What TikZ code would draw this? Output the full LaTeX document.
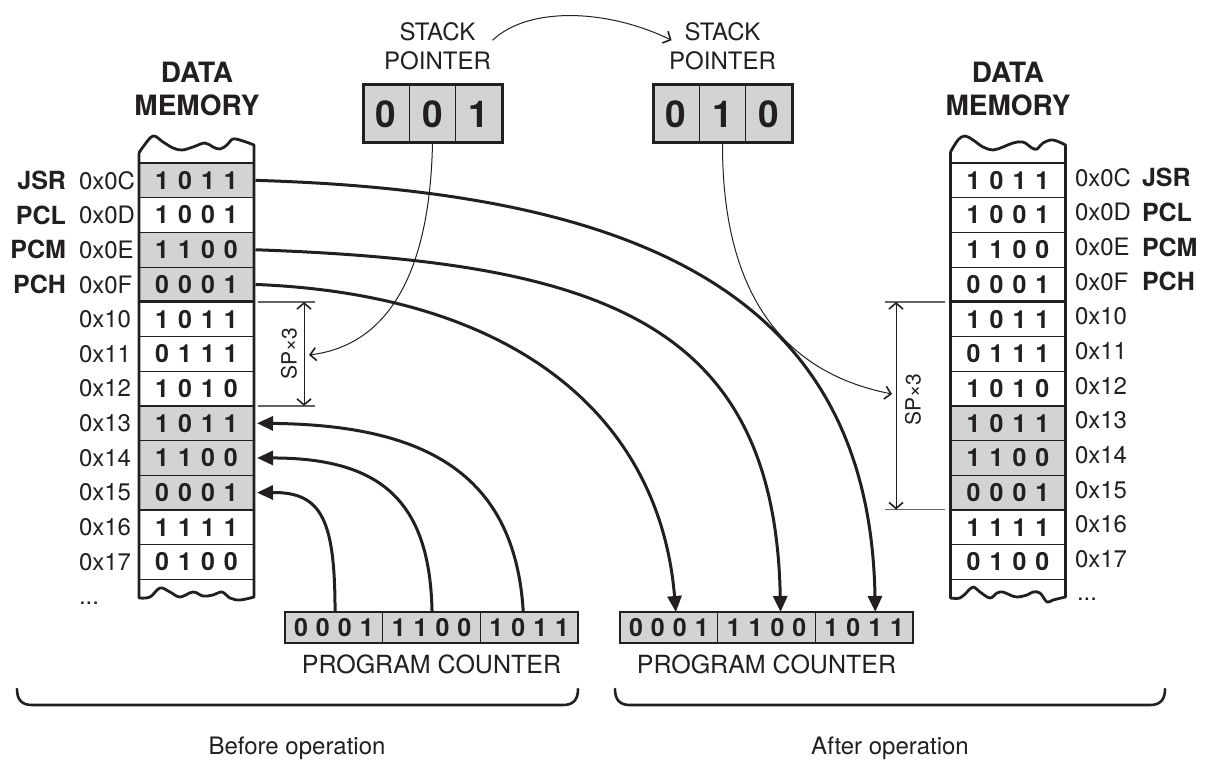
\documentclass[tikz,border=0pt]{standalone}
\usepackage{fontspec}
\setmainfont{TeX Gyre Heros}
\usetikzlibrary{arrows.meta,calc}
\definecolor{ink}{HTML}{231F20}
\definecolor{shade}{HTML}{D1D3D4}
\newcommand\fs[1]{\fontsize{#1}{#1}\selectfont}
\newcommand\spc[4]{#1\hspace{9pt}#2\hspace{9pt}#3\hspace{9pt}#4}
\newcommand\spp[4]{#1\hspace{8pt}#2\hspace{8pt}#3\hspace{8pt}#4}
\tikzset{
  every node/.style={inner sep=0pt, outer sep=0pt, text=ink},
  memcell/.style={draw=ink, line width=1.2pt, minimum width=115pt, minimum height=34.7pt, font=\fs{25}\bfseries},
  addr/.style={font=\fs{24}},
  tag/.style={font=\fs{25}\bfseries},
  title/.style={font=\fs{28}\bfseries, anchor=base},
  label/.style={font=\fs{24}, anchor=base},
  spcell/.style={draw=ink, line width=1.4pt, fill=shade, minimum width=46.4pt, minimum height=58pt, font=\fs{37}\bfseries},
  pccell/.style={draw=ink, line width=1.4pt, fill=shade, minimum width=97.7pt, minimum height=31pt, font=\fs{25}\bfseries},
  outline/.style={draw=ink, line width=2.8pt, line join=round},
  bigarrow/.style={draw=ink, line width=3pt, -{Triangle[length=16pt,width=14pt]}},
  thinarrow/.style={draw=ink, line width=1pt, -{Straight Barb[length=6pt,width=13pt,line width=1.6pt]}},
  dimline/.style={draw=ink, line width=1pt, {Straight Barb[length=6pt,width=14pt,line width=1.6pt]}-{Straight Barb[length=6pt,width=14pt,line width=1.6pt]}},
  tickline/.style={draw=ink!70, line width=1.2pt},
  bracket/.style={draw=ink, line width=2.6pt, line cap=round},
}
\begin{document}
\begin{tikzpicture}[x=1pt,y=-1pt]
\useasboundingbox (0,0) rectangle (1210,765);

% ---------------- left data memory
\node[title] (dmL1) at (197,83) {DATA};
\node[title] (dmL2) at (197,116) {MEMORY};
\foreach \i/\bv/\sh/\ad in {0/1011/1/0C,1/1001/0/0D,2/1100/1/0E,3/0001/1/0F,4/1011/0/10,5/0111/0/11,6/1010/0/12,7/1011/1/13,8/1100/1/14,9/0001/1/15,10/1111/0/16,11/0100/0/17}{
  \ifnum\sh=1 \def\fc{shade}\else\def\fc{white}\fi
  \node[memcell, fill=\fc] (L\i) at (196.5,180.35+34.7*\i) {\expandafter\spc\bv};
  \node[addr, anchor=west] (La\i) at (79,180.35+34.7*\i) {0x\ad};
}
\foreach \i/\t in {0/JSR,1/PCL,2/PCM,3/PCH}{
  \node[tag, anchor=east] (Lt\i) at (66,180.35+34.7*\i) {\t};
}
\draw[outline] (139,153) -- (139,598)
  -- plot[smooth, tension=0.6] coordinates {(139,598) (150,597) (160,588) (170,592) (180,597) (193,592) (203,596) (213,595) (222,592) (230,598) (240,600) (254,597)}
  -- (254,145)
  -- plot[smooth, tension=0.6] coordinates {(254,145) (243,141) (233,139) (227,145) (220,149) (213,147) (205,143) (193,147) (182,150) (173,148) (163,142) (153,136) (143,147) (139,153)};
\draw[draw=ink, line width=3pt] (L3.south west) -- (L3.south east);
\node[addr, anchor=west] (Ldots) at (79,603) {...};

% ---------------- right data memory
\node[title] (dmR1) at (1008,83) {DATA};
\node[title] (dmR2) at (1008,116) {MEMORY};
\foreach \i/\bv/\sh/\ad in {0/1011/0/0C,1/1001/0/0D,2/1100/0/0E,3/0001/0/0F,4/1011/0/10,5/0111/0/11,6/1010/0/12,7/1011/1/13,8/1100/1/14,9/0001/1/15,10/1111/0/16,11/0100/0/17}{
  \ifnum\sh=1 \def\fc{shade}\else\def\fc{white}\fi
  \node[memcell, fill=\fc] (R\i) at (1008,180.35+34.7*\i) {\expandafter\spc\bv};
  \node[addr, anchor=west] (Ra\i) at (1075,177.5+34.7*\i) {0x\ad};
}
\foreach \i/\t in {0/JSR,1/PCL,2/PCM,3/PCH}{
  \node[tag, anchor=west] (Rt\i) at (1142,177.5+34.7*\i) {\t};
}
\draw[outline] (950.5,152) -- (950.5,598)
  -- plot[smooth, tension=0.6] coordinates {(950.5,598) (960,598) (967,592) (973,587) (980,592) (990,598) (997,593) (1003,592) (1010,595) (1017,597) (1027,595) (1033,592) (1040,593) (1047,602) (1053,600) (1065.5,597)}
  -- (1065.5,145)
  -- plot[smooth, tension=0.6] coordinates {(1065.5,145) (1053,140) (1043,143) (1037,149) (1032,148) (1023,142) (1013,143) (1003,147) (993,150) (983,147) (973,140) (965,136) (958,140) (950.5,152)};
\draw[draw=ink, line width=3pt] (R3.south west) -- (R3.south east);
\node[addr, anchor=west] (Rdots) at (1077,599) {...};

% ---------------- stack pointers
\node[label] (stkL1) at (437.5,41) {STACK};
\node[label] (stkL2) at (437.5,70) {POINTER};
\node[spcell] (SPl1) at (386.2,114) {0};
\node[spcell] (SPl2) at (432.5,114) {0};
\node[spcell] (SPl3) at (478.8,114) {1};
\draw[draw=ink, line width=3pt] (SPl1.north west) rectangle (SPl3.south east);

\node[label] (stkR1) at (722.5,41) {STACK};
\node[label] (stkR2) at (722.5,70) {POINTER};
\node[spcell] (SPr1) at (676.2,114) {0};
\node[spcell] (SPr2) at (722.5,114) {1};
\node[spcell] (SPr3) at (768.8,114) {0};
\draw[draw=ink, line width=3pt] (SPr1.north west) rectangle (SPr3.south east);

\draw[thinarrow] ([xshift=17pt,yshift=-8pt]stkL1.east) .. controls (530,5) and (610,10) .. ([xshift=-13pt,yshift=-8pt]stkR1.west);

% ---------------- program counters
\node[pccell] (Lp1) at (333.85,627.5) {\spp0001};
\node[pccell] (Lp2) at (431.55,627.5) {\spp1100};
\node[pccell] (Lp3) at (529.25,627.5) {\spp1011};
\draw[draw=ink, line width=2.6pt] (Lp1.north west) rectangle (Lp3.south east);
\node[label, font=\fs{25}] (pcL) at (431.5,673) {PROGRAM COUNTER};

\node[pccell] (Rp1) at (668.85,627.5) {\spp0001};
\node[pccell] (Rp2) at (766.55,627.5) {\spp1100};
\node[pccell] (Rp3) at (864.25,627.5) {\spp1011};
\draw[draw=ink, line width=2.6pt] (Rp1.north west) rectangle (Rp3.south east);
\node[label, font=\fs{25}] (pcR) at (766.5,673) {PROGRAM COUNTER};

% ---------------- SPx3 dimensions
\coordinate (dLa) at (304,302);
\coordinate (dLb) at (304,405.9);
\draw[tickline] (258,302) -- (315,302);
\draw[tickline] (258,405.9) -- (315,405.9);
\draw[dimline] (dLa) -- (dLb);
\node[font=\fs{21}, rotate=90] (spL) at (289,354) {SP×3};
\coordinate (dLt) at (309,355);

\coordinate (dRa) at (896,302);
\coordinate (dRb) at (896,509.5);
\draw[tickline] (885,302) -- (945,302);
\draw[tickline] (885,509.5) -- (945,509.5);
\draw[dimline] (dRa) -- (dRb);
\node[font=\fs{21}, rotate=90] (spR) at (913,400) {SP×3};
\coordinate (dRt) at (892,394);

\draw[thinarrow] (SPl2.south) .. controls (430,270) and (390,345) .. (dLt);
\draw[thinarrow] (SPr2.south) .. controls (722,290) and (780,372) .. (dRt);

% ---------------- big arrows (before)
\draw[bigarrow] ([xshift=1.2pt]Lp1.north) .. controls (335,520) and (322,492) .. ([xshift=3pt]L9.east);
\draw[bigarrow] ([xshift=0.5pt]Lp2.north) .. controls (430,500) and (380,458) .. ([xshift=3pt]L8.east);
\draw[bigarrow] ([xshift=-6pt]Lp3.north) .. controls (515,470) and (420,425) .. ([xshift=3pt]L7.east);

% ---------------- big arrows (after)
\draw[bigarrow] ([xshift=1.5pt]L0.east) .. controls (650,192) and (870,300) .. ([xshift=11pt]Rp3.north);
\draw[bigarrow] ([xshift=1.5pt]L2.east) .. controls (600,262) and (775,320) .. ([xshift=14pt]Rp2.north);
\draw[bigarrow] ([xshift=1.5pt]L3.east) .. controls (520,295) and (660,420) .. ([xshift=7pt]Rp1.north);

% ---------------- brackets
\draw[bracket] (17,689) .. controls (17,700) and (22,705) .. (32,705) -- (563,705) .. controls (573,705) and (578,700) .. (578,689);
\draw[bracket] (615,689) .. controls (615,700) and (620,705) .. (630,705) -- (1150,705) .. controls (1160,705) and (1165,700) .. (1165,689);
\node[label, font=\fs{24}] (bef) at (297,754) {Before operation};
\node[label, font=\fs{24}] (aft) at (890,754) {After operation};
\end{tikzpicture}
\end{document}
